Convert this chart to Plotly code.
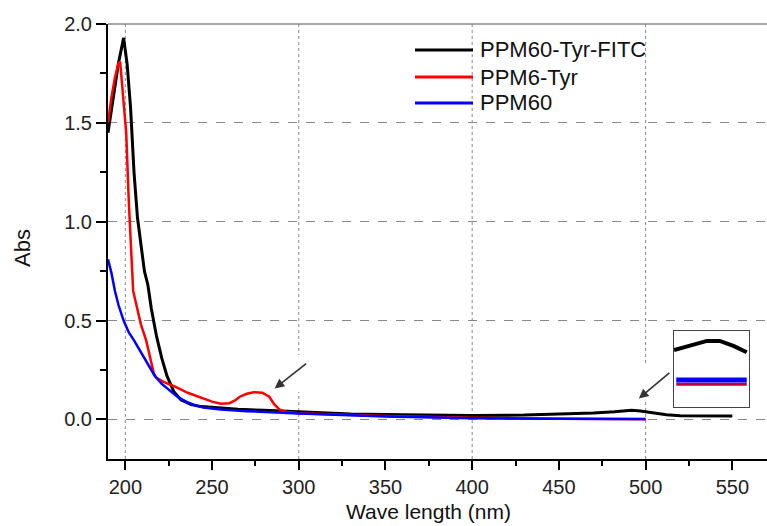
import plotly.graph_objects as go

# ---------------- data ----------------
fitc_x = [190, 193, 196, 199, 201, 203, 205, 207, 209, 211, 213, 215, 218, 221, 224, 228, 232, 238, 244,
          255, 265, 280, 300, 330, 360, 400, 430, 450, 470, 482, 492, 497, 505, 512, 520, 535, 550]
fitc_y = [1.45, 1.62, 1.80, 1.93, 1.80, 1.58, 1.25, 1.02, 0.88, 0.75, 0.68, 0.56, 0.42, 0.31, 0.22, 0.14, 0.10, 0.075, 0.065,
          0.058, 0.052, 0.046, 0.038, 0.028, 0.024, 0.020, 0.022, 0.027, 0.033, 0.039, 0.047, 0.043, 0.033, 0.024, 0.019, 0.018, 0.018]

tyr_x = [190, 192, 194, 196, 197, 199, 200.5, 202, 204.5, 209, 212, 216.5, 218, 222, 229, 236, 244, 250, 255, 260,
         263, 266, 270, 274, 279, 283, 286, 289, 293, 300, 350, 400, 450, 500]
tyr_y = [1.50, 1.63, 1.73, 1.80, 1.81, 1.60, 1.45, 1.10, 0.65, 0.48, 0.40, 0.23, 0.21, 0.19, 0.165, 0.135, 0.11, 0.09, 0.08, 0.082,
         0.095, 0.115, 0.13, 0.138, 0.135, 0.115, 0.075, 0.05, 0.038, 0.032, 0.018, 0.008, 0.004, 0.001]

ppm_x = [190, 192, 194, 196, 199, 202, 205, 209, 213, 217, 221, 225, 230, 235, 240, 245, 255, 270, 285, 300, 350, 400, 450, 500]
ppm_y = [0.81, 0.74, 0.65, 0.58, 0.50, 0.44, 0.40, 0.34, 0.28, 0.22, 0.18, 0.15, 0.115, 0.09, 0.072, 0.06, 0.05, 0.042, 0.035,
         0.03, 0.015, 0.006, 0.003, 0.002]

# inset (magnified view of the 490 nm region, arbitrary units)
inset_black_x = [0, 2, 4.4, 6.1, 8, 9.7]
inset_black_y = [0.75, 0.81, 0.87, 0.87, 0.80, 0.72]
inset_flat_x = [0.3, 9.7]
inset_red_y = [0.30, 0.30]
inset_blue_y = [0.355, 0.355]

series_names = ["PPM60-Tyr-FITC", "PPM6-Tyr", "PPM60"]
series_colors = ["#000000", "#ff0000", "#0000ff"]

x_grid_vals = [200, 300, 400, 500]

FONT = "Liberation Sans, Arial, sans-serif"

fig = go.Figure()
fig.add_trace(go.Scatter(x=fitc_x, y=fitc_y, mode="lines", name=series_names[0],
                         line=dict(color=series_colors[0], width=3), showlegend=False))
fig.add_trace(go.Scatter(x=tyr_x, y=tyr_y, mode="lines", name=series_names[1],
                         line=dict(color=series_colors[1], width=2.5), showlegend=False))
fig.add_trace(go.Scatter(x=ppm_x, y=ppm_y, mode="lines", name=series_names[2],
                         line=dict(color=series_colors[2], width=2.5), showlegend=False))

# inset traces
fig.add_trace(go.Scatter(x=inset_black_x, y=inset_black_y, mode="lines", xaxis="x2", yaxis="y2",
                         line=dict(color="#000000", width=4), showlegend=False))
fig.add_trace(go.Scatter(x=inset_flat_x, y=inset_red_y, mode="lines", xaxis="x2", yaxis="y2",
                         line=dict(color="#c00030", width=3), showlegend=False))
fig.add_trace(go.Scatter(x=inset_flat_x, y=inset_blue_y, mode="lines", xaxis="x2", yaxis="y2",
                         line=dict(color="#0000ff", width=5), showlegend=False))

L, R, T, B = 108, 0, 24, 67
W, H = 767, 526
pw, ph = W - L - R, H - T - B


def px2paper_x(px):
    return (px - L) / pw


def px2paper_y(py):
    return (H - B - py) / ph


shapes = []
# vertical dotted grid lines
for gx in x_grid_vals:
    shapes.append(dict(type="line", xref="x", yref="paper", x0=gx, x1=gx, y0=0, y1=1,
                       line=dict(color="#888888", width=1, dash="dot"), layer="below"))
# white patches behind arrows
shapes.append(dict(type="rect", xref="paper", yref="paper",
                   x0=px2paper_x(265), x1=px2paper_x(318), y0=px2paper_y(392), y1=px2paper_y(355),
                   fillcolor="white", line=dict(width=0), layer="below"))
shapes.append(dict(type="rect", xref="paper", yref="paper",
                   x0=px2paper_x(628), x1=px2paper_x(672), y0=px2paper_y(402), y1=px2paper_y(363),
                   fillcolor="white", line=dict(width=0), layer="below"))
# top frame line
shapes.append(dict(type="line", xref="paper", yref="paper", x0=0, x1=1, y0=1, y1=1,
                   line=dict(color="#888888", width=1.5)))

# manual legend
legend_rows_y = [50, 77, 103]
annotations = []
for name, color, ry in zip(series_names, series_colors, legend_rows_y):
    shapes.append(dict(type="line", xref="paper", yref="paper",
                       x0=px2paper_x(415), x1=px2paper_x(473), y0=px2paper_y(ry), y1=px2paper_y(ry),
                       line=dict(color=color, width=3)))
    annotations.append(dict(text=name, xref="paper", yref="paper", x=px2paper_x(478), y=px2paper_y(ry),
                            xanchor="left", yanchor="middle", showarrow=False,
                            font=dict(family=FONT, size=22, color="#111111")))

# arrows
annotations.append(dict(x=286.1, y=0.157, xref="x", yref="y", ax=33, ay=-26, text="",
                        showarrow=True, arrowhead=2, arrowsize=1.2, arrowwidth=1.6, arrowcolor="#333333"))
annotations.append(dict(x=496.1, y=0.106, xref="x", yref="y", ax=32, ay=-27, text="",
                        showarrow=True, arrowhead=2, arrowsize=1.2, arrowwidth=1.6, arrowcolor="#333333"))

# axis titles
annotations.append(dict(text="Wave length (nm)", xref="paper", yref="paper", x=px2paper_x(428), y=px2paper_y(511),
                        xanchor="center", yanchor="middle", showarrow=False,
                        font=dict(family=FONT, size=21, color="#111111")))
annotations.append(dict(text="Abs", xref="paper", yref="paper", x=px2paper_x(22), y=px2paper_y(248),
                        xanchor="center", yanchor="middle", showarrow=False, textangle=-90,
                        font=dict(family=FONT, size=22, color="#111111")))

fig.update_layout(
    width=W, height=H,
    margin=dict(l=L, r=R, t=T, b=B),
    paper_bgcolor="white", plot_bgcolor="white",
    font=dict(family=FONT, color="#111111"),
    xaxis=dict(range=[190, 570], showgrid=False, zeroline=False,
               showline=True, linecolor="#000000", linewidth=2,
               ticks="outside", ticklen=9, tickwidth=1.5, tickcolor="#000000",
               tick0=200, dtick=50, tickfont=dict(family=FONT, size=20, color="#222222"),
               minor=dict(ticks="outside", ticklen=5, tickwidth=1.5, tickcolor="#000000", dtick=25, tick0=200,
                          showgrid=False)),
    yaxis=dict(range=[-0.2, 2.0], showgrid=True, gridcolor="#888888", gridwidth=1, griddash="dash",
               zeroline=False, showline=True, linecolor="#000000", linewidth=2,
               ticks="outside", ticklen=10, tickwidth=1.5, tickcolor="#000000",
               tick0=0, dtick=0.5, tickformat=".1f", tickfont=dict(family=FONT, size=20, color="#222222"),
               minor=dict(ticks="outside", ticklen=6, tickwidth=1.5, tickcolor="#000000", dtick=0.25, tick0=0,
                          showgrid=False)),
    xaxis2=dict(domain=[px2paper_x(674), px2paper_x(749)], anchor="y2", range=[0, 10],
                showgrid=False, zeroline=False, showticklabels=False, ticks="",
                showline=True, mirror=True, linecolor="#444444", linewidth=1),
    yaxis2=dict(domain=[px2paper_y(407), px2paper_y(331)], anchor="x2", range=[0, 1],
                showgrid=False, zeroline=False, showticklabels=False, ticks="",
                showline=True, mirror=True, linecolor="#444444", linewidth=1),
    shapes=shapes,
    annotations=annotations,
    showlegend=False,
)

fig.write_html("out.html")
